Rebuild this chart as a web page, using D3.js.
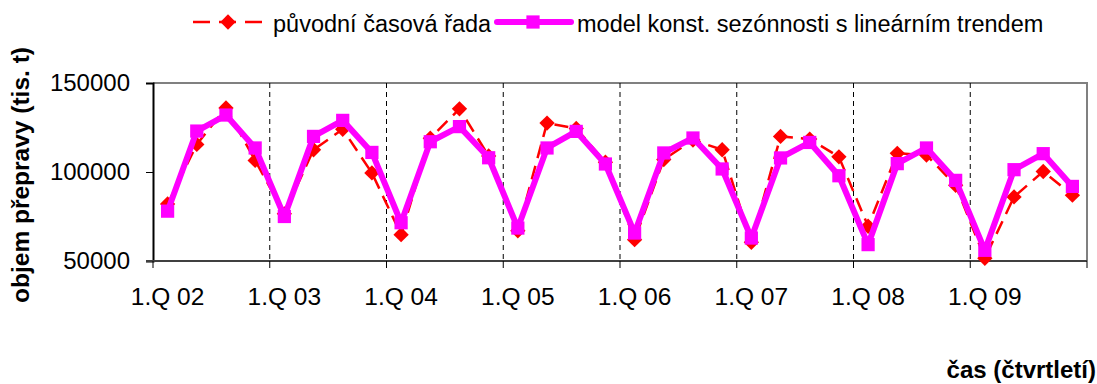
<!DOCTYPE html>
<html>
<head>
<meta charset="utf-8">
<script src="https://cdn.jsdelivr.net/npm/d3@7"></script>
<style>
  body { margin: 0; background: #fff; }
  text { font-family: "Liberation Sans", Arial, sans-serif; }
</style>
</head>
<body>
<div id="chart"></div>
<script>
// quarters 2002-2009
const years = ["02", "03", "04", "05", "06", "07", "08", "09"];
const quarters = years.flatMap(y => [1, 2, 3, 4].map(q => `${q}.Q ${y}`));

// původní časová řada
const original = [
    82000, 115500, 136000, 106500,
    76500, 112500, 124000, 99500,
    64800, 119000, 135500, 109000,
    67000, 127500, 124500, 105500,
    62000, 107000, 118000, 112500,
    60500, 120000, 118500, 108500,
    69500, 110500, 109500, 92500,
    51500, 86000, 100300, 87000
];

// model konst. sezónnosti s lineárním trendem
const model = [
    78000, 123000, 132000, 113500,
    75000, 120000, 129000, 111000,
    71500, 117000, 125500, 108000,
    68500, 113500, 122800, 104500,
    65700, 110700, 119100, 101700,
    62900, 107900, 116600, 97900,
    59200, 104700, 113500, 95300,
    56000, 101300, 110300, 91900
];

const yTicks = [50000, 100000, 150000];

const W = 1097, H = 384;
const plot = { left: 153, right: 1087, top: 83, bottom: 261 };

const svg = d3.select("#chart")
    .append("svg")
    .attr("width", W)
    .attr("height", H);

const x = d3.scaleBand()
    .domain(quarters)
    .range([plot.left, plot.right])
    .padding(0);

const y = d3.scaleLinear()
    .domain([50000, 150000])
    .range([plot.bottom, plot.top]);

const cx = d => x(d) + x.bandwidth() / 2;

// plot frame (gray top/right)
svg.append("path")
    .attr("d", `M${plot.left},${plot.top}H${plot.right}V${plot.bottom}`)
    .attr("fill", "none")
    .attr("stroke", "#808080")
    .attr("stroke-width", 2);

// year separators
const yearStarts = quarters.filter((d, i) => i % 4 === 0);
svg.selectAll(".sep")
    .data(yearStarts.slice(1))
    .enter()
    .append("line")
    .attr("x1", d => x(d))
    .attr("x2", d => x(d))
    .attr("y1", plot.top)
    .attr("y2", plot.bottom)
    .attr("stroke", "#000")
    .attr("stroke-width", 1)
    .attr("stroke-dasharray", "5,4");

// Y axis
const yAxis = svg.append("g")
    .attr("transform", `translate(${plot.left},0)`)
    .call(d3.axisLeft(y).tickValues(yTicks).tickSize(7).tickPadding(16).tickFormat(d3.format("d")));
yAxis.select(".domain").attr("stroke", "#000").attr("stroke-width", 2);
yAxis.selectAll("text")
    .attr("font-size", 24)
    .attr("font-family", "Liberation Sans, Arial, sans-serif")
    .attr("fill", "#000");

// X axis: ticks at year boundaries, labels on first quarter
const xAxisG = svg.append("g");
xAxisG.append("line")
    .attr("x1", plot.left - 7)
    .attr("x2", plot.right)
    .attr("y1", plot.bottom)
    .attr("y2", plot.bottom)
    .attr("stroke", "#404040")
    .attr("stroke-width", 2);
xAxisG.selectAll(".xt")
    .data(yearStarts.concat(["end"]))
    .enter()
    .append("line")
    .attr("x1", d => d === "end" ? plot.right : x(d))
    .attr("x2", d => d === "end" ? plot.right : x(d))
    .attr("y1", plot.bottom)
    .attr("y2", plot.bottom + 7)
    .attr("stroke", "#000");
xAxisG.selectAll(".xl")
    .data(yearStarts)
    .enter()
    .append("text")
    .attr("x", d => cx(d))
    .attr("y", 305)
    .attr("text-anchor", "middle")
    .attr("font-size", 24.5)
    .text(d => d);

// axis titles
svg.append("text")
    .attr("transform", "rotate(-90)")
    .attr("x", -175)
    .attr("y", 29)
    .attr("text-anchor", "middle")
    .attr("font-size", 24.5)
    .attr("font-weight", "bold")
    .text("objem přepravy (tis. t)");

svg.append("text")
    .attr("x", 1096)
    .attr("y", 378)
    .attr("text-anchor", "end")
    .attr("font-size", 24)
    .attr("font-weight", "bold")
    .text("čas (čtvrtletí)");

const line = d3.line()
    .x((d, i) => cx(quarters[i]))
    .y(d => y(d));

const diamond = d3.symbol().type(d3.symbolDiamond2).size(150);
const square = d3.symbol().type(d3.symbolSquare).size(175);

// original series (red dashed, diamonds)
svg.append("path")
    .datum(original)
    .attr("d", line)
    .attr("fill", "none")
    .attr("stroke", "#ff0000")
    .attr("stroke-width", 2.5)
    .attr("stroke-dasharray", "14,8");
svg.selectAll(".dia")
    .data(original)
    .enter()
    .append("path")
    .attr("transform", (d, i) => `translate(${cx(quarters[i])},${y(d)})`)
    .attr("d", diamond)
    .attr("fill", "#ff0000");

// model series (magenta, squares)
svg.append("path")
    .datum(model)
    .attr("d", line)
    .attr("fill", "none")
    .attr("stroke", "#ff00ff")
    .attr("stroke-width", 6)
    .attr("stroke-linejoin", "round");
svg.selectAll(".sq")
    .data(model)
    .enter()
    .append("path")
    .attr("transform", (d, i) => `translate(${cx(quarters[i])},${y(d)})`)
    .attr("d", square)
    .attr("fill", "#ff00ff");

// legend
const lg = svg.append("g");
lg.append("line")
    .attr("x1", 193).attr("x2", 262).attr("y1", 22).attr("y2", 22)
    .attr("stroke", "#ff0000").attr("stroke-width", 2.5)
    .attr("stroke-dasharray", "17,9");
lg.append("path")
    .attr("transform", "translate(228,22)")
    .attr("d", diamond)
    .attr("fill", "#ff0000");
lg.append("text")
    .attr("x", 273).attr("y", 32)
    .attr("font-size", 23.5)
    .text("původní časová řada");

lg.append("line")
    .attr("x1", 497).attr("x2", 571).attr("y1", 22).attr("y2", 22)
    .attr("stroke", "#ff00ff").attr("stroke-width", 6)
    .attr("stroke-linecap", "round");
lg.append("path")
    .attr("transform", "translate(533,22)")
    .attr("d", square)
    .attr("fill", "#ff00ff");
lg.append("text")
    .attr("x", 577).attr("y", 32)
    .attr("font-size", 23.5)
    .text("model konst. sezónnosti s lineárním trendem");
</script>
</body>
</html>
